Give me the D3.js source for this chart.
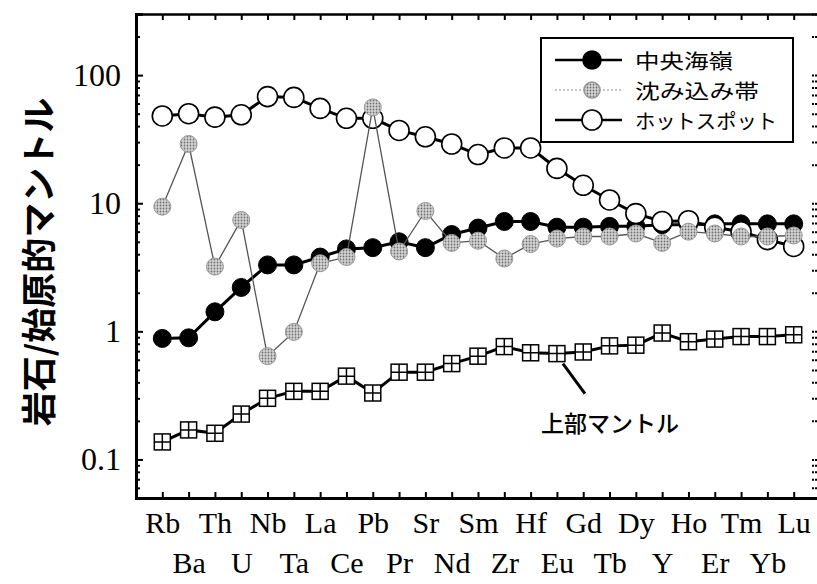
<!DOCTYPE html>
<html>
<head>
<meta charset="utf-8">
<script src="https://cdn.jsdelivr.net/npm/d3@7"></script>
<style>
  body { margin: 0; background: #fff; }
  svg { display: block; }
</style>
</head>
<body>
<div id="chart"></div>
<script>
// element order on the x axis
const elements = ["Rb", "Ba", "Th", "U", "Nb", "Ta", "La", "Ce", "Pb", "Pr", "Sr", "Nd", "Sm",
  "Zr", "Hf", "Eu", "Gd", "Tb", "Dy", "Y", "Ho", "Er", "Tm", "Yb", "Lu"];

// rock / primitive mantle
const ridge = [0.88, 0.89, 1.42, 2.2, 3.3, 3.3, 3.8, 4.4, 4.5, 5.0, 4.5, 5.7, 6.4,
  7.2, 7.2, 6.5, 6.5, 6.6, 6.6, 6.8, 6.8, 6.9, 6.9, 6.9, 6.9];
const subduction = [9.4, 29, 3.2, 7.4, 0.64, 0.99, 3.4, 3.8, 56, 4.2, 8.7, 4.9, 5.1,
  3.7, 4.8, 5.3, 5.5, 5.5, 5.8, 4.9, 6.0, 5.8, 5.5, 5.5, 5.6];
const hotspot = [48, 50, 47, 49, 68, 67, 55, 46, 46, 37, 33, 29, 24,
  27, 27, 18.7, 13.8, 10.6, 8.3, 7.2, 7.3, 6.5, 6.0, 5.2, 4.6];
const upperMantle = [0.137, 0.17, 0.16, 0.226, 0.30, 0.34, 0.34, 0.447, 0.33, 0.48, 0.48, 0.56, 0.64,
  0.76, 0.68, 0.67, 0.69, 0.77, 0.78, 0.97, 0.83, 0.87, 0.91, 0.91, 0.94];

const yTicks = [100, 10, 1, 0.1];
const legendLabels = ["中央海嶺", "沈み込み帯", "ホットスポット"];
const yTitle = "岩石/始原的マントル";
const mantleLabel = "上部マントル";

const width = 817, height = 584;
const margin = { top: 14, right: -3, bottom: 86, left: 136 };
const serif = "'Liberation Serif', 'DejaVu Serif', serif";
const jp = "'Noto Sans CJK JP', sans-serif";

const x = d3.scaleLinear().domain([-1, elements.length]).range([margin.left, width - margin.right]);
const y = d3.scaleLog().domain([0.05, 300]).range([height - margin.bottom, margin.top]);

const svg = d3.select("#chart").append("svg").attr("width", width).attr("height", height);

const defs = svg.append("defs");
const stip = defs.append("pattern").attr("id", "stipple").attr("patternUnits", "userSpaceOnUse")
  .attr("width", 3).attr("height", 3);
stip.append("rect").attr("width", 3).attr("height", 3).attr("fill", "#d4d4d4");
stip.append("circle").attr("cx", 1.5).attr("cy", 1.5).attr("r", 0.9).attr("fill", "#707070");

const idx = d3.range(elements.length);
const minor = y.ticks().filter((t) => !yTicks.includes(t) && t >= 0.05 && t <= 300);

// axes
const leftAxis = svg.append("g").attr("transform", `translate(${margin.left},0)`)
  .call(d3.axisLeft(y).tickValues(yTicks).tickSize(-7).tickPadding(15).tickFormat((d) => d3.format("~g")(d)));
svg.append("g").attr("transform", `translate(${margin.left},0)`)
  .call(d3.axisLeft(y).tickValues(minor).tickSize(-4).tickFormat(""))
  .call((g) => g.select(".domain").remove());
leftAxis.select(".domain").attr("stroke-width", 3);
leftAxis.selectAll("text").attr("font-family", serif).attr("font-size", 32).attr("fill", "#000");

const rightAxis = svg.append("g").attr("transform", `translate(${width - margin.right},0)`)
  .call(d3.axisRight(y).tickValues(yTicks.concat(minor)).tickSize(-8).tickFormat(""));
rightAxis.selectAll("line").attr("stroke-dasharray", "2,1");

const topAxis = svg.append("g").attr("transform", `translate(0,${margin.top})`)
  .call(d3.axisTop(x).tickValues(idx).tickSize(-6).tickFormat(""));
topAxis.select(".domain").attr("stroke-width", 2.5);

const bottomAxis = svg.append("g").attr("transform", `translate(0,${height - margin.bottom})`)
  .call(d3.axisBottom(x).tickValues(idx).tickSize(-6).tickPadding(0).tickFormat((i) => elements[i]));
bottomAxis.select(".domain").attr("stroke-width", 3);
bottomAxis.selectAll("text")
  .attr("font-family", serif).attr("font-size", 30).attr("fill", "#000")
  .attr("dy", null)
  .attr("y", (i) => (i % 2 === 0 ? 35 : 75));
svg.selectAll(".tick line").attr("stroke-width", 2);

// y title
svg.append("text")
  .attr("transform", `translate(52,262) rotate(-90)`)
  .attr("text-anchor", "middle")
  .attr("font-family", jp).attr("font-weight", 700).attr("font-size", 35)
  .text(yTitle);

const line = d3.line().x((d, i) => x(i)).y((d) => y(d));

function circles(g, data, r, fill, stroke, sw) {
  g.selectAll("circle").data(data).join("circle")
    .attr("cx", (d, i) => x(i)).attr("cy", (d) => y(d)).attr("r", r)
    .attr("fill", fill).attr("stroke", stroke).attr("stroke-width", sw);
}

// upper mantle
const gm = svg.append("g");
gm.append("path").attr("d", line(upperMantle)).attr("fill", "none").attr("stroke", "#000").attr("stroke-width", 3);
const sq = gm.selectAll("g").data(upperMantle).join("g")
  .attr("transform", (d, i) => `translate(${x(i)},${y(d)})`);
sq.append("rect").attr("x", -8).attr("y", -8).attr("width", 16).attr("height", 16)
  .attr("fill", "#fff").attr("stroke", "#000").attr("stroke-width", 1.5);
sq.append("path").attr("d", "M0,-8V8M-8,0H8").attr("stroke", "#000").attr("stroke-width", 1.5);

// mid-ocean ridge
const gr = svg.append("g");
gr.append("path").attr("d", line(ridge)).attr("fill", "none").attr("stroke", "#000").attr("stroke-width", 3);
circles(gr, ridge, 9, "#000", "#000", 1);

// hotspot
const gh = svg.append("g");
gh.append("path").attr("d", line(hotspot)).attr("fill", "none").attr("stroke", "#000").attr("stroke-width", 3);
circles(gh, hotspot, 10, "#fff", "#000", 1.6);

// subduction zone
const gs = svg.append("g");
gs.append("path").attr("d", line(subduction)).attr("fill", "none").attr("stroke", "#555").attr("stroke-width", 1.3);
circles(gs, subduction, 8.5, "url(#stipple)", "#999", 1);

// upper mantle label with leader
const ax = x(15) + 6, ay = y(upperMantle[15]) + 10;
svg.append("line").attr("x1", ax).attr("y1", ay).attr("x2", ax + 22).attr("y2", ay + 30)
  .attr("stroke", "#000").attr("stroke-width", 3);
svg.append("text").attr("x", x(15) - 16).attr("y", ay + 58)
  .attr("font-family", jp).attr("font-weight", 500).attr("font-size", 23)
  .attr("dominant-baseline", "central")
  .text(mantleLabel);

// legend
const lg = svg.append("g").attr("transform", "translate(541,38)");
lg.append("rect").attr("width", 252).attr("height", 104).attr("fill", "#fff")
  .attr("stroke", "#000").attr("stroke-width", 2);
const rows = [
  { y: 22, stroke: "#000", sw: 2.5, r: 9, fill: "#000", ms: "#000", len: 98 },
  { y: 52, stroke: "#888", sw: 1.2, r: 8, fill: "url(#stipple)", ms: "#999", dash: "2,2", len: 124 },
  { y: 82, stroke: "#000", sw: 2.5, r: 10, fill: "#fff", ms: "#000", len: 142 }
];
rows.forEach((r, i) => {
  lg.append("line").attr("x1", 14).attr("x2", 81).attr("y1", r.y).attr("y2", r.y)
    .attr("stroke", r.stroke).attr("stroke-width", r.sw).attr("stroke-dasharray", r.dash || null);
  lg.append("circle").attr("cx", 51).attr("cy", r.y).attr("r", r.r)
    .attr("fill", r.fill).attr("stroke", r.ms).attr("stroke-width", 1.6);
  lg.append("text").attr("x", 94).attr("y", r.y).attr("dominant-baseline", "central")
    .attr("font-family", jp).attr("font-size", 20.5)
    .attr("textLength", r.len).attr("lengthAdjust", "spacingAndGlyphs")
    .text(legendLabels[i]);
});
</script>
</body>
</html>
